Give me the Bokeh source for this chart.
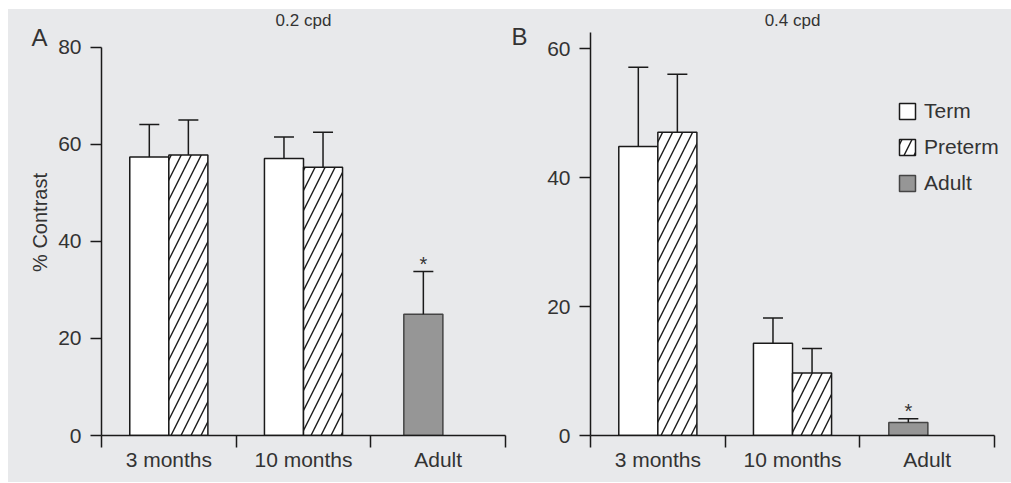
from bokeh.plotting import figure
from bokeh.models import (Range1d, FixedTicker, Whisker, TeeHead, ColumnDataSource,
                          Label, Legend, LegendItem, LinearAxis)
from bokeh.layouts import row
from bokeh.embed import file_html
from bokeh.resources import INLINE
from bokeh.core.properties import value

categories = ["3 months", "10 months", "Adult"]
series = ["Term", "Preterm", "Adult"]

# Panel A : 0.2 cpd
a_term = [57.4, 57.1]
a_term_err = [64.1, 61.5]
a_preterm = [57.8, 55.3]
a_preterm_err = [65.0, 62.5]
a_adult = [25.0]
a_adult_err = [33.8]
a_ticks = [0, 20, 40, 60, 80]

# Panel B : 0.4 cpd
b_term = [44.8, 14.3]
b_term_err = [57.1, 18.2]
b_preterm = [47.0, 9.7]
b_preterm_err = [56.0, 13.5]
b_adult = [2.0]
b_adult_err = [2.6]
b_ticks = [0, 20, 40, 60]

BG = "#e8e9eb"
TXT = "#333333"
LINE = "#1a1a1a"
FONT = "Liberation Sans"
BW = 0.29
H = 473


def make_panel(letter, title, term, term_err, preterm, preterm_err, adult, adult_err,
               yticks, ytop, ybound, xend, width, bl, br, adult_off, letter_y,
               letter_standoff, title_y, ylabel=None, legend=False):
    p = figure(width=width, height=H, x_range=Range1d(0, xend), y_range=Range1d(0, ytop),
               output_backend="svg", toolbar_location=None,
               min_border_left=bl, min_border_right=br, min_border_top=0,
               min_border_bottom=47)
    p.background_fill_color = BG
    p.border_fill_color = BG
    p.outline_line_color = None
    p.grid.visible = False

    # x axis: labels at category centres, ticks at boundaries
    xa = p.xaxis[0]
    xa.bounds = (0, len(categories))
    xa.ticker = FixedTicker(ticks=[i + 0.5 for i in range(len(categories))],
                            minor_ticks=list(range(len(categories) + 1)))
    xa.major_label_overrides = {i + 0.5: c for i, c in enumerate(categories)}
    xa.major_tick_out = 0
    xa.major_tick_in = 0
    xa.minor_tick_out = 12
    xa.minor_tick_in = 0
    xa.minor_tick_line_color = LINE
    xa.minor_tick_line_width = 1.5
    xa.axis_line_color = LINE
    xa.axis_line_width = 1.5
    xa.major_label_text_font = FONT
    xa.major_label_text_font_size = "21px"
    xa.major_label_text_color = TXT
    xa.major_label_standoff = 0

    ya = p.yaxis[0]
    ya.bounds = (0, ybound)
    ya.ticker = FixedTicker(ticks=yticks, minor_ticks=[])
    ya.major_tick_out = 11
    ya.major_tick_in = 0
    ya.major_tick_line_color = LINE
    ya.major_tick_line_width = 1.5
    ya.axis_line_color = LINE
    ya.axis_line_width = 1.5
    ya.major_label_text_font = FONT
    ya.major_label_text_font_size = "21px"
    ya.major_label_text_color = TXT
    ya.major_label_standoff = 9
    if ylabel:
        ya.axis_label = ylabel
        ya.axis_label_text_font = FONT
        ya.axis_label_text_font_size = "20px"
        ya.axis_label_text_font_style = "normal"
        ya.axis_label_text_color = TXT
        ya.axis_label_standoff = 4

    # panel letter as the single label of a bare extra axis
    la = LinearAxis(ticker=FixedTicker(ticks=[letter_y], minor_ticks=[]),
                    major_label_overrides={letter_y: letter},
                    axis_line_color=None, major_tick_line_color=None,
                    major_tick_out=0, major_tick_in=0,
                    major_label_text_font=FONT, major_label_text_font_size="24px",
                    major_label_text_color=TXT, major_label_standoff=letter_standoff)
    p.add_layout(la, "left")

    n = len(term)
    tx = [i + 0.5 - BW / 2 for i in range(n)]
    px = [i + 0.5 + BW / 2 for i in range(n)]
    ax = [n + 0.5 + adult_off]

    s_t = ColumnDataSource(dict(x=tx, top=term, err=term_err))
    s_p = ColumnDataSource(dict(x=px, top=preterm, err=preterm_err))
    s_a = ColumnDataSource(dict(x=ax, top=adult, err=adult_err))

    r_t = p.vbar(x="x", top="top", bottom=0, width=BW, source=s_t,
                 fill_color="white", line_color=LINE, line_width=1.5)
    r_p = p.vbar(x="x", top="top", bottom=0, width=BW, source=s_p,
                 fill_color="white", line_color=LINE, line_width=1.5,
                 hatch_pattern="/", hatch_color=LINE, hatch_weight=1.4, hatch_scale=20)
    r_a = p.vbar(x="x", top="top", bottom=0, width=BW, source=s_a,
                 fill_color="#969696", line_color="#444444", line_width=1.5)

    for s in (s_t, s_p, s_a):
        w = Whisker(base="x", upper="err", lower="top", source=s, dimension="height",
                    line_color=LINE, line_width=1.5, level="overlay",
                    upper_head=TeeHead(size=20, line_color=LINE, line_width=1.5),
                    lower_head=None)
        p.add_layout(w)

    p.text(x="x", y="err", text=value("*"), source=s_a, text_align="center",
           text_baseline="bottom", text_font=value(FONT), text_font_size="20px",
           text_color=TXT, y_offset=3)

    p.add_layout(Label(x=1.5, y=title_y, text=title, text_align="center",
                       text_baseline="middle", text_font=FONT, text_font_size="17px",
                       text_color=TXT))

    if legend:
        lg = Legend(items=[LegendItem(label=series[0], renderers=[r_t]),
                           LegendItem(label=series[1], renderers=[r_p]),
                           LegendItem(label=series[2], renderers=[r_a])],
                    location=(307, 240), orientation="vertical",
                    glyph_width=20, glyph_height=20, label_standoff=7, spacing=12,
                    label_height=24, label_text_font=FONT, label_text_font_size="21px",
                    label_text_color=TXT, background_fill_alpha=0, border_line_alpha=0,
                    padding=0, margin=0)
        p.add_layout(lg)
    return p


pa = make_panel("A", "0.2 cpd", a_term, a_term_err, a_preterm, a_preterm_err, a_adult,
                a_adult_err, a_ticks, 87.8, 80, 3, 500, 93, 3, -0.11, 82.0, -21, 85.6,
                ylabel="% Contrast")
pb = make_panel("B", "0.4 cpd", b_term, b_term_err, b_preterm, b_preterm_err, b_adult,
                b_adult_err, b_ticks, 66.05, 62.5, 3.126, 503, 82, 0, -0.14, 61.9, 17,
                64.3, legend=True)

layout = row(pa, pb, margin=(9, 0, 0, 8), styles={"background-color": BG})
open("out.html", "w").write(file_html(layout, INLINE))
